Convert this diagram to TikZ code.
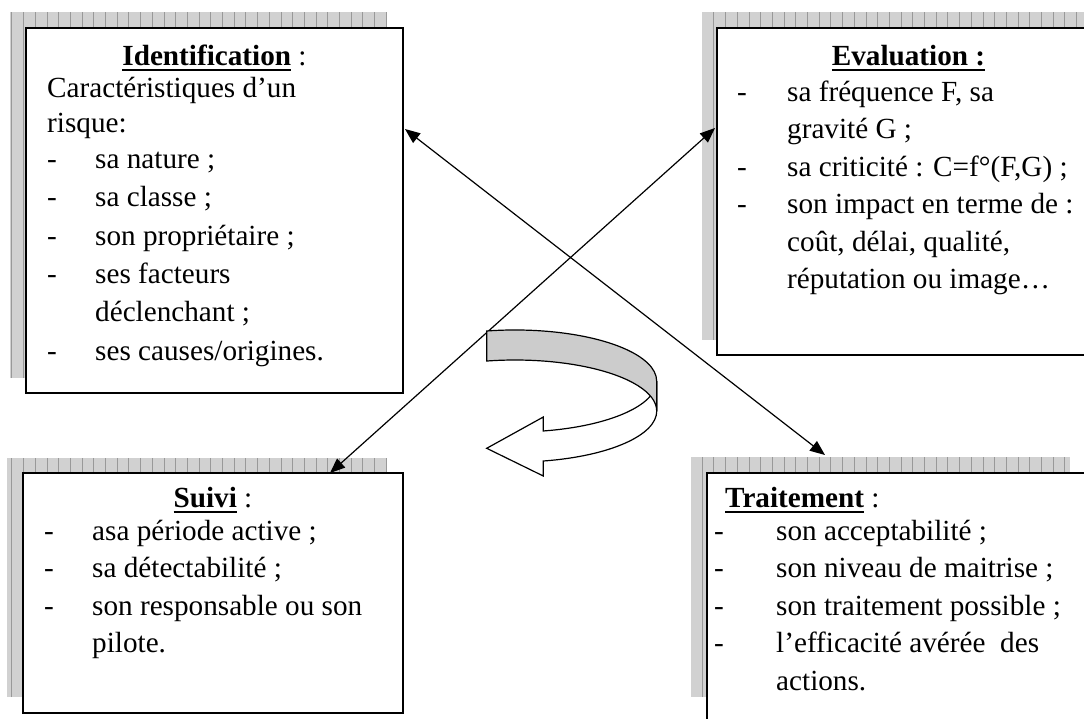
\documentclass[tikz,border=0pt]{standalone}
\usepackage{fontspec}
\setmainfont{Liberation Serif}
\usetikzlibrary{arrows.meta}
\newcommand\myul[1]{\setbox0=\hbox{#1}\rlap{\rule[-6pt]{\wd0}{2.2pt}}\box0\relax}
\newcommand\dashitem[5]{\node[txt] (#1-d) at (#2,#4) {-};\node[txt] (#1) at (#3,#4) {#5};}
\begin{document}
\begin{tikzpicture}[x=1pt,y=-1pt,
  txt/.style={anchor=base west, inner sep=0pt, font=\fontsize{29.2}{36}\selectfont},
  ttl/.style={anchor=base, inner sep=0pt, font=\fontsize{29.2}{36}\selectfont},
  boxst/.style={draw=black, line width=1.8pt, fill=white, inner sep=0pt, outer sep=0pt, anchor=north west},
  shadowst/.style={fill=black!18, path picture={\draw[black!40, line width=0.6pt, step=11.7] (path picture bounding box.south west) grid (path picture bounding box.north east);}},
  conn/.style={line width=1.2pt, {Triangle[length=15pt,width=12pt]}-{Triangle[length=15pt,width=12pt]}},
  ribbon/.style={draw=black, line width=1.2pt, line join=miter}
]
\useasboundingbox (0,0) rectangle (1084,718);
\clip (0,0) rectangle (1084,718);
\fill[white] (0,0) rectangle (1084,718);

% shadows
\path[shadowst] (10,12) rectangle (387,378);
\path[shadowst] (702,12) rectangle (1090,340);
\path[shadowst] (7,458) rectangle (387,697);
\path[shadowst] (691,457) rectangle (1070,697);

% boxes
\node[boxst, minimum width=377, minimum height=365] (ident) at (26,28) {};
\node[boxst, minimum width=383, minimum height=327] (evalb) at (717,28) {};
\node[boxst, minimum width=380, minimum height=240] (suivi) at (23,473) {};
\node[boxst, minimum width=383, minimum height=270] (trait) at (707,473) {};

% Identification text
\node[ttl] (idt) at (214.5,65) {\myul{\textbf{Identification}} :};
\node[txt] (id1) at (47,97) {Caractéristiques d’un};
\node[txt] (id2) at (47,132) {risque:};
\dashitem{id3}{47}{95}{168}{sa nature ;}
\dashitem{id4}{47}{95}{206}{sa classe ;}
\dashitem{id5}{47}{95}{245}{son propriétaire ;}
\dashitem{id6}{47}{95}{283}{ses facteurs}
\node[txt] (id7) at (95,321) {déclenchant ;};
\dashitem{id8}{47}{95}{360}{ses causes/origines.}

% Evaluation text
\node[ttl] (evt) at (908.5,65) {\myul{\textbf{Evaluation :}}};
\dashitem{ev1}{737}{787}{101}{sa fréquence F, sa}
\node[txt] (ev2) at (787,138.5) {gravité G ;};
\dashitem{ev3}{737}{787}{176}{sa criticité : C=f°(F,G) ;}
\dashitem{ev4}{737}{787}{213.5}{son impact en terme de :}
\node[txt] (ev5) at (787,251) {coût, délai, qualité,};
\node[txt] (ev6) at (787,288.5) {réputation ou image…};

% Suivi text
\node[ttl] (sut) at (213,507) {\myul{\textbf{Suivi}} :};
\dashitem{su1}{44}{92}{540}{asa période active ;}
\dashitem{su2}{44}{92}{577.5}{sa détectabilité ;}
\dashitem{su3}{44}{92}{615}{son responsable ou son}
\node[txt] (su4) at (92,652.5) {pilote.};

% Traitement text
\node[txt] (trt) at (725,507) {\myul{\textbf{Traitement}} :};
\dashitem{tr1}{714}{776}{540}{son acceptabilité ;}
\dashitem{tr2}{714}{776}{577.5}{son niveau de maitrise ;}
\dashitem{tr3}{714}{776}{615}{son traitement possible ;}
\dashitem{tr4}{714}{776}{652.5}{l’efficacité avérée\ \ des}
\node[txt] (tr5) at (776,690) {actions.};

% connectors
\coordinate (a1) at (405,129);
\coordinate (a2) at (825,455);
\coordinate (b1) at (715,128);
\coordinate (b2) at (330,473);
\draw[conn] (a1) -- (a2);
\draw[conn] (b1) -- (b2);

% curved ribbon arrow
\path[ribbon, fill=white] (656.7,381) arc[start angle=0, end angle=78.5, x radius=141.7, y radius=51]
  -- (543.3,417) -- (486.7,448.3) -- (543.3,476) -- (543.3,461)
  arc[start angle=78.5, end angle=0, x radius=141.7, y radius=51] -- cycle;
\path[ribbon, fill=black!20] (486.7,331) arc[start angle=258.5, end angle=360, x radius=141.7, y radius=51]
  -- (656.7,411) arc[start angle=360, end angle=258.5, x radius=141.7, y radius=51] -- cycle;
\end{tikzpicture}
\end{document}
